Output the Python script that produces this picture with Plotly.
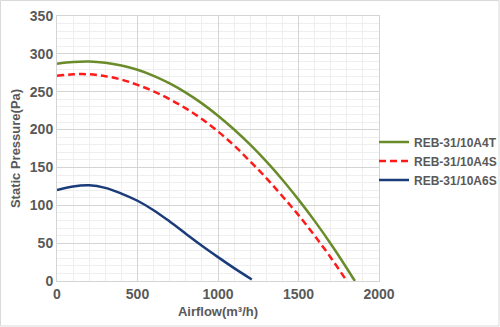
import plotly.graph_objects as go

x_a4t = [0, 100, 200, 300, 400, 500, 600, 700, 800, 900, 1000, 1100, 1200, 1300, 1400, 1500, 1600, 1700, 1800, 1850]
p_a4t = [287, 289.2, 289.8, 288.2, 284.6, 279.0, 271.0, 261.0, 248.8, 234.6, 218.3, 200.1, 180.0, 157.9, 133.8, 107.5, 79.4, 49.2, 16.9, 0]

x_a4s = [0, 100, 200, 300, 400, 500, 600, 700, 800, 900, 1000, 1100, 1200, 1300, 1400, 1500, 1600, 1700, 1800]
p_a4s = [271, 273, 273, 270.5, 266, 259, 250.5, 240, 228, 214, 197.5, 179, 158, 136, 112, 87, 60, 31, 0]

x_a6s = [0, 100, 200, 300, 400, 500, 600, 700, 800, 900, 1000, 1100, 1210]
p_a6s = [120, 124.8, 126.3, 123, 115.5, 106, 93.5, 78.5, 62.5, 46.5, 31.5, 17, 2]

names = ["REB-31/10A4T", "REB-31/10A4S", "REB-31/10A6S"]

FONT = "Liberation Sans, Arial, sans-serif"

fig = go.Figure()
fig.add_trace(go.Scatter(x=x_a4t, y=p_a4t, mode="lines", name=names[0],
                         line=dict(color="#6a8b2a", width=2.5, shape="spline")))
fig.add_trace(go.Scatter(x=x_a4s, y=p_a4s, mode="lines", name=names[1],
                         line=dict(color="#ff1a1a", width=2.5, shape="spline", dash="7px,4px")))
fig.add_trace(go.Scatter(x=x_a6s, y=p_a6s, mode="lines", name=names[2],
                         line=dict(color="#1a3c7a", width=2.5, shape="spline")))

axis_common = dict(
    showgrid=True, gridcolor="#d4d4d4", gridwidth=1,
    showline=True, linecolor="#d4d4d4", linewidth=1, mirror=True,
    zeroline=False, ticks="",
    tickfont=dict(family=FONT, size=14, color="#595959", weight="bold"),
)

fig.update_xaxes(range=[0, 2000], dtick=500,
                 minor=dict(dtick=100, showgrid=True, gridcolor="#eeeeee", gridwidth=1),
                 title=dict(text="Airflow(m³/h)", standoff=6,
                            font=dict(family=FONT, size=13, color="#595959", weight="bold")),
                 **axis_common)
fig.update_yaxes(range=[0, 350], dtick=50,
                 minor=dict(dtick=10, showgrid=True, gridcolor="#eeeeee", gridwidth=1),
                 title=dict(text="Static Pressure(Pa)", standoff=6,
                            font=dict(family=FONT, size=13, color="#595959", weight="bold")),
                 **axis_common)

fig.update_layout(
    width=500, height=327,
    margin=dict(l=57, r=121, t=16, b=46, autoexpand=False),
    paper_bgcolor="white", plot_bgcolor="white",
    showlegend=True,
    legend=dict(x=1 - 5/322, y=0.453, xanchor="left", yanchor="middle",
                font=dict(family=FONT, size=12, color="#595959", weight="bold"),
                tracegroupgap=0, itemwidth=30, bgcolor="rgba(0,0,0,0)"),
    shapes=[dict(type="rect", xref="paper", yref="paper",
                 x0=-56.5/322, x1=1+120/322, y0=-45/265, y1=1+15.5/265,
                 line=dict(color="#d9d9d9", width=1))],
)

fig.write_html("out.html")
